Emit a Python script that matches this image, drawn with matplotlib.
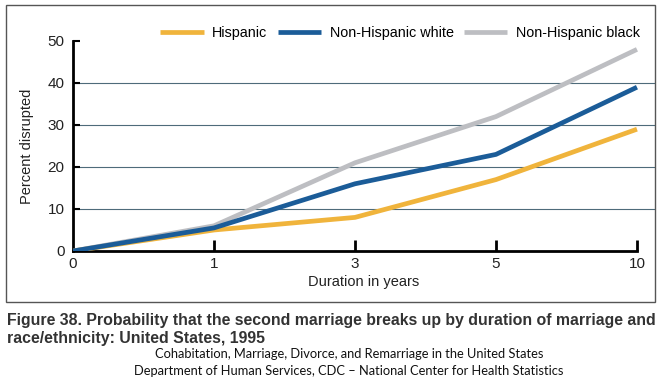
import matplotlib.pyplot as plt
from matplotlib.patches import Rectangle

# data
durations = ['0', '1', '3', '5', '10']
hispanic = [0, 5, 8, 17, 29]
nh_white = [0, 5.5, 16, 23, 39]
nh_black = [0, 6, 21, 32, 48]

plt.rcParams['font.family'] = ['Liberation Sans', 'DejaVu Sans']

W, H = 665, 381
fig = plt.figure(figsize=(W / 100, H / 100), dpi=100)
ax = fig.add_axes([73 / W, 1 - 251 / H, (655 - 73) / W, (251 - 41) / H])

x = range(len(durations))
ax.plot(x, hispanic, color='#F0B43C', lw=3.4, label='Hispanic', solid_capstyle='butt', zorder=3)
ax.plot(x, nh_white, color='#1B5C98', lw=3.4, label='Non-Hispanic white', solid_capstyle='butt', zorder=3)
ax.plot(x, nh_black, color='#BDBEC2', lw=3.4, label='Non-Hispanic black', solid_capstyle='butt', zorder=2)

ax.set_xlim(0, 4.128)
ax.set_ylim(0, 50)
for v in [10, 20, 30, 40]:
    ax.axhline(v, color='#4E6B7A', lw=0.8, zorder=1)

ax.spines['top'].set_visible(False)
ax.spines['right'].set_visible(False)
ax.spines['left'].set_linewidth(2)
ax.spines['bottom'].set_linewidth(2)
ax.spines['bottom'].set_bounds(0, 4)

ax.set_yticks([0, 10, 20, 30, 40, 50])
ax.tick_params(axis='y', direction='in', length=5, width=1.5, labelsize=11, pad=6, labelcolor='#222222')
ax.set_xticks(list(x))
ax.set_xticklabels(durations)
ax.tick_params(axis='x', direction='in', length=8, width=2, labelsize=11, pad=4, labelcolor='#222222')
ax.xaxis.get_major_ticks()[0].tick1line.set_visible(False)

ax.set_xlabel('Duration in years', fontsize=10.5, color='#222222', labelpad=3)
ax.set_ylabel('Percent disrupted', fontsize=10.5, color='#222222', labelpad=10)

fig.legend(loc='center', bbox_to_anchor=(400 / W, 1 - 33 / H), ncol=3, frameon=False,
           fontsize=10.4, handlelength=3.0, handletextpad=0.6, columnspacing=0.7)

fig.patches.append(Rectangle((6 / W, 1 - 302 / H), (655 - 6) / W, (302 - 5) / H,
                             transform=fig.transFigure, fill=False, ec='#555555', lw=1))

fig.text(7 / W, 1 - 320 / H, 'Figure 38. Probability that the second marriage breaks up by duration of marriage and',
         fontsize=11.4, fontweight='bold', color='#333333', va='center')
fig.text(7 / W, 1 - 338 / H, 'race/ethnicity: United States, 1995',
         fontsize=11.4, fontweight='bold', color='#333333', va='center')
fig.text(349 / W, 1 - 354 / H, 'Cohabitation, Marriage, Divorce, and Remarriage in the United States',
         fontsize=9.3, color='#111111', ha='center', va='center', family=['Lato', 'DejaVu Sans'])
fig.text(349 / W, 1 - 371 / H, 'Department of Human Services, CDC \u2013 National Center for Health Statistics',
         fontsize=9.3, color='#111111', ha='center', va='center', family=['Lato', 'DejaVu Sans'])

fig.savefig('out.png', dpi=100)
